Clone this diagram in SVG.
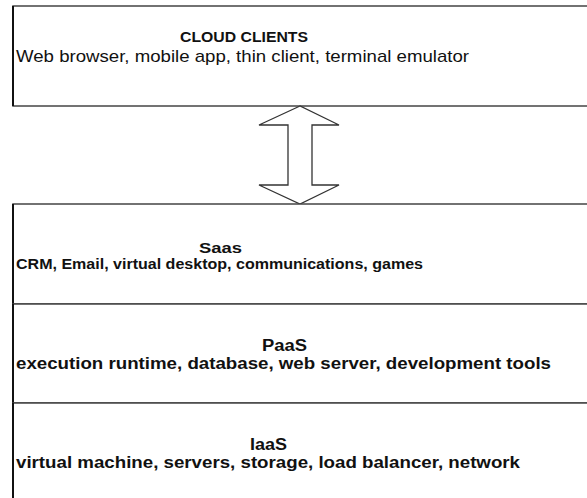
<svg xmlns="http://www.w3.org/2000/svg" width="587" height="498" viewBox="0 0 587 498">
<style>
.box{fill:#fff;stroke:#444;stroke-width:1.5}
.edge{stroke:#111;stroke-width:2}
.t{font-family:"Liberation Sans",Arial,sans-serif;fill:#111}
.b{font-weight:bold}
</style>
<rect width="587" height="498" fill="#fff"/>
<g id="clients">
<rect class="box" x="13" y="6" width="590" height="100"/>
<line class="edge" x1="13" y1="6" x2="13" y2="106"/>
<text class="t b" x="180" y="42" font-size="14.5" textLength="128" lengthAdjust="spacingAndGlyphs">CLOUD CLIENTS</text>
<text class="t" x="16" y="62" font-size="17" textLength="453" lengthAdjust="spacingAndGlyphs">Web browser, mobile app, thin client, terminal emulator</text>
</g>
<g id="connectors">
<polygon points="300,106 259,125 288,125 288,185 259,185 300,204 339,185 312,185 312,125 339,125" fill="#fff" stroke="#333" stroke-width="1.3" stroke-linejoin="miter"/>
</g>
<g id="saas">
<rect class="box" x="13" y="204" width="590" height="100"/>
<line class="edge" x1="13" y1="204" x2="13" y2="304"/>
<text class="t b" x="199" y="253" font-size="15.5" textLength="43" lengthAdjust="spacingAndGlyphs">Saas</text>
<text class="t b" x="16" y="269" font-size="14.5" textLength="407" lengthAdjust="spacingAndGlyphs">CRM, Email, virtual desktop, communications, games</text>
</g>
<g id="paas">
<rect class="box" x="13" y="304" width="590" height="99"/>
<line class="edge" x1="13" y1="304" x2="13" y2="403"/>
<text class="t b" x="262" y="351" font-size="16" textLength="45" lengthAdjust="spacingAndGlyphs">PaaS</text>
<text class="t b" x="16" y="369" font-size="17" textLength="535" lengthAdjust="spacingAndGlyphs">execution runtime, database, web server, development tools</text>
</g>
<g id="iaas">
<rect class="box" x="13" y="403" width="590" height="110"/>
<line class="edge" x1="13" y1="403" x2="13" y2="513"/>
<text class="t b" x="250" y="450" font-size="16" textLength="37" lengthAdjust="spacingAndGlyphs">IaaS</text>
<text class="t b" x="16" y="468" font-size="17" textLength="504" lengthAdjust="spacingAndGlyphs">virtual machine, servers, storage, load balancer, network</text>
</g>
</svg>
